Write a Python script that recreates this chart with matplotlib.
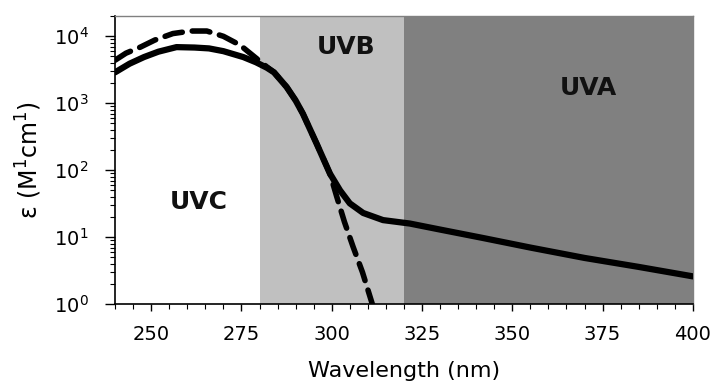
import matplotlib
matplotlib.use("Agg")
import matplotlib.pyplot as plt
from matplotlib.ticker import MultipleLocator, LogLocator

plt.rcParams["font.family"] = ["DejaVu Sans"]
plt.rcParams["mathtext.fontset"] = "dejavusans"

# solid curve: measured spectrum
wl_solid = [240, 244, 248, 252, 257, 262, 266, 270, 275.5, 279, 282, 284,
            287.5, 290, 292, 295.8, 299.5, 302.3, 305, 308.7, 314.2, 321.6,
            330, 342, 355, 370, 385, 400]
eps_solid = [2900, 3900, 4900, 5900, 6900, 6800, 6600, 6000, 4900, 4100, 3400, 2900,
             1750, 1100, 700, 250, 89, 50, 32, 23, 18, 16,
             13, 9.7, 7.0, 4.9, 3.6, 2.6]

# dashed curve: calculated spectrum
wl_dash = [240, 243, 247, 251, 256, 261, 265.4, 270, 274.6, 279.2, 282, 284,
           287.5, 290, 292, 295.8, 299.5, 301.4, 303.5, 305.9, 308.5, 311.5, 313]
eps_dash = [4400, 5600, 6900, 8800, 11000, 12000, 12000, 10000, 7400, 4650, 3500, 2900,
            1750, 1100, 700, 250, 89, 40, 17, 7.2, 3.0, 0.9, 0.5]

bands = [(240, 280, "white", "UVC"), (280, 320, "#c0c0c0", "UVB"), (320, 400, "#808080", "UVA")]
band_label_pos = {"UVC": (263.1, 33), "UVB": (303.9, 6900), "UVA": (371.2, 1670)}

fig = plt.figure(figsize=(7.15, 3.85), dpi=100)
ax = fig.add_axes([0.161, 0.21, 0.808, 0.748])

for lo, hi, col, name in bands:
    ax.axvspan(lo, hi, color=col, lw=0, zorder=0)
    x, y = band_label_pos[name]
    ax.text(x, y, name, fontsize=18, fontweight="bold", ha="center", va="center",
            color="#111111")

ax.plot(wl_solid, eps_solid, color="black", lw=4.5, solid_capstyle="round", zorder=3)
dl, = ax.plot(wl_dash, eps_dash, color="black", lw=4, dash_capstyle="round", zorder=2)
dl.set_dashes([3.2, 1.8])

ax.set_yscale("log")
ax.set_xlim(240, 400)
ax.set_ylim(1, 2e4)
ax.xaxis.set_major_locator(MultipleLocator(25))
ax.xaxis.set_minor_locator(MultipleLocator(5))
ax.yaxis.set_major_locator(LogLocator(base=10, numticks=10))
ax.yaxis.set_minor_locator(LogLocator(base=10, subs=range(2, 10), numticks=20))

ax.tick_params(which="both", direction="out", labelsize=14)
ax.tick_params(axis="x", which="major", length=5, width=1, pad=10)
ax.tick_params(axis="x", which="minor", length=3.5, width=0.8)
ax.tick_params(axis="y", which="major", length=7, width=1, pad=12)
ax.tick_params(axis="y", which="minor", length=3.5, width=0.8)

for s in ["left", "bottom"]:
    ax.spines[s].set_color("black")
    ax.spines[s].set_linewidth(1.2)
for s in ["top", "right"]:
    ax.spines[s].set_color("#808080")
    ax.spines[s].set_linewidth(1)

ax.set_xlabel("Wavelength (nm)", fontsize=16, labelpad=12)
ax.set_ylabel("ε (M$^1$cm$^1$)", fontsize=17, labelpad=7)

plt.savefig("out.png", dpi=100)
plt.close(fig)
